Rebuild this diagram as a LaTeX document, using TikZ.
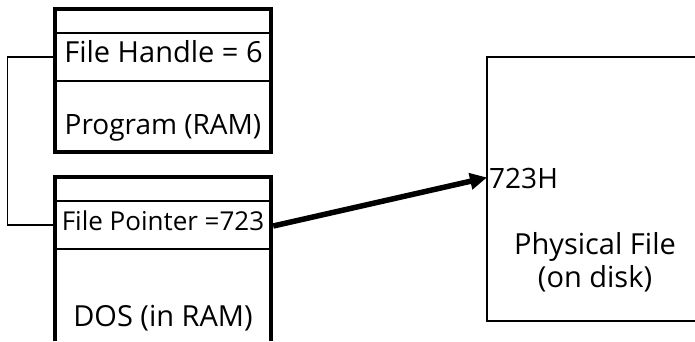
\documentclass[tikz,border=0pt]{standalone}
\usepackage{fontspec}
\setmainfont{Open Sans}[Scale=1.0]
\usetikzlibrary{arrows.meta}
\tikzset{
  thickline/.style={line width=4pt,line cap=butt},
  thinline/.style={line width=1.2pt},
  rowbox/.style={draw=none,inner sep=0pt,minimum width=216pt,minimum height=48pt},
  lab/.style={inner sep=0pt,font=\fontsize{29}{30}\selectfont,anchor=base},
  midlab/.style={inner sep=0pt,font=\fontsize{28}{30}\selectfont,anchor=base},
  smalllab/.style={inner sep=0pt,font=\fontsize{26}{27}\selectfont,anchor=base}
}
\begin{document}
\begin{tikzpicture}[x=1pt,y=-1pt]
\useasboundingbox (0,0) rectangle (695,341);
\fill[white] (0,0) rectangle (695,341);
% program box
\draw[thickline] (55,9) rectangle (271,152);
\draw[thinline] (55,33) -- (271,33);
\draw[thinline] (55,81) -- (271,81);
\node[rowbox] (handle) at (163,57) {};
\node[lab] at (163.5,62) {File Handle = 6};
\node[midlab] (prog) at (163,134) {Program (RAM)};
% DOS box
\draw[thickline] (55,341) -- (55,177) -- (271,177) -- (271,341);
\draw[thinline] (55,201) -- (271,201);
\draw[thinline] (55,249) -- (271,249);
\node[rowbox] (pointer) at (163,225) {};
\node[smalllab] at (163,230) {File Pointer =723};
\node[lab] (dos) at (163,326) {DOS (in RAM)};
% file box
\draw[line width=2pt] (695,57) -- (487,57) -- (487,321) -- (695,321);
\coordinate (filept) at (487,177.5);
\node[midlab,anchor=base west] (off) at (489,188) {723H};
\node[lab] (phys) at (595,254) {Physical File};
\node[lab] (disk) at (595,287) {(on disk)};
% connectors
\coordinate (turn) at (7.5,57);
\draw[thinline] (handle.west) -- (turn) |- (pointer.west);
\draw[line width=5.5pt,-{Triangle[length=17pt,width=16pt]}] (pointer.east) ++(2,1) -- (filept);
\end{tikzpicture}
\end{document}
